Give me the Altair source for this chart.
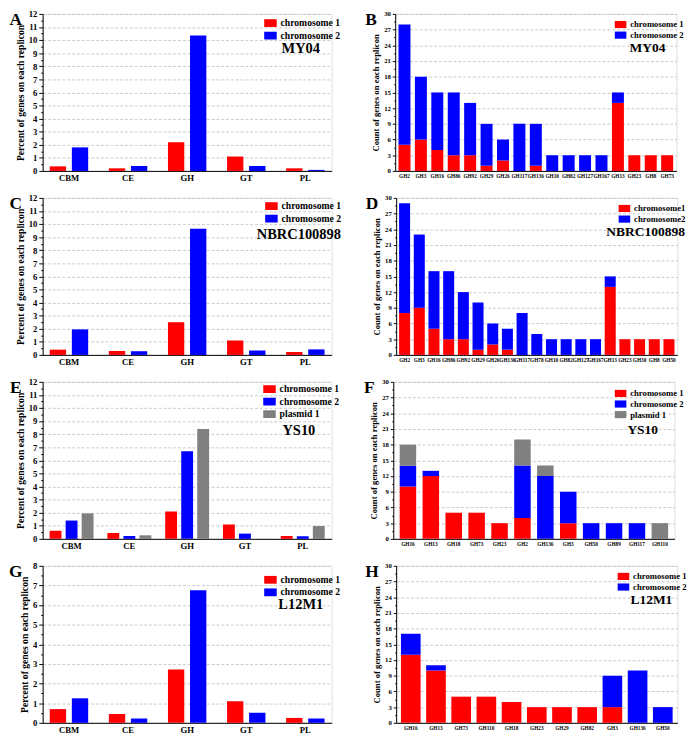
import altair as alt
import pandas as pd

FONT = "Liberation Serif"
RED, BLUE, GREY = "#ff0000", "#0000ff", "#808080"

# ---------------- data ----------------
func_cats = ["CBM", "CE", "GH", "GT", "PL"]

A_chr1 = [0.35, 0.2, 2.2, 1.1, 0.2]
A_chr2 = [1.8, 0.38, 10.35, 0.38, 0.08]

C_chr1 = [0.4, 0.3, 2.5, 1.1, 0.22]
C_chr2 = [1.95, 0.28, 9.65, 0.33, 0.42]

E_chr1 = [0.62, 0.45, 2.1, 1.1, 0.22]
E_chr2 = [1.4, 0.22, 6.7, 0.4, 0.2]
E_pl1 = [1.95, 0.27, 8.4, 0.0, 0.98]

G_chr1 = [0.7, 0.45, 2.72, 1.1, 0.25]
G_chr2 = [1.25, 0.22, 6.75, 0.52, 0.22]

B_cats = ["GH2", "GH3", "GH16", "GH86", "GH92", "GH29", "GH26", "GH117", "GH136",
          "GH10", "GH82", "GH127", "GH167", "GH13", "GH23", "GH8", "GH73"]
B_chr1 = [5, 6, 4, 3, 3, 1, 2, 0, 1, 0, 0, 0, 0, 13, 3, 3, 3]
B_chr2 = [23, 12, 11, 12, 10, 8, 4, 9, 8, 3, 3, 3, 3, 2, 0, 0, 0]

D_cats = ["GH2", "GH3", "GH16", "GH86", "GH92", "GH29", "GH26", "GH136", "GH117", "GH78",
          "GH10", "GH82", "GH127", "GH167", "GH13", "GH23", "GH30", "GH8", "GH50"]
D_chr1 = [8, 9, 5, 3, 3, 1, 2, 1, 0, 0, 0, 0, 0, 0, 13, 3, 3, 3, 3]
D_chr2 = [21, 14, 11, 13, 9, 9, 4, 4, 8, 4, 3, 3, 3, 3, 2, 0, 0, 0, 0]

F_cats = ["GH16", "GH13", "GH18", "GH73", "GH23", "GH2", "GH136", "GH3",
          "GH50", "GH89", "GH117", "GH110"]
F_chr1 = [10, 12, 5, 5, 3, 4, 0, 3, 0, 0, 0, 0]
F_chr2 = [4, 1, 0, 0, 0, 10, 12, 6, 3, 3, 3, 0]
F_pl1 = [4, 0, 0, 0, 0, 5, 2, 0, 0, 0, 0, 3]

H_cats = ["GH16", "GH13", "GH73", "GH110", "GH18", "GH23", "GH29", "GH82", "GH3", "GH136", "GH50"]
H_chr1 = [13, 10, 5, 5, 4, 3, 3, 3, 3, 0, 0]
H_chr2 = [4, 1, 0, 0, 0, 0, 0, 0, 6, 10, 3]

S2 = ["chromosome 1", "chromosome 2"]
S3 = ["chromosome 1", "chromosome 2", "plasmid 1"]
S2D = ["chromosome1", "chromosome2"]

RECT = "M-1,-0.62H1V0.62H-1Z"

LW, RW, PH = 300, 292, 163


def make_df(cats, names, values):
    rows = []
    for k, (name, vals) in enumerate(zip(names, values)):
        for c, v in zip(cats, vals):
            rows.append({"cat": c, "series": name, "value": v, "ord": k})
    return pd.DataFrame(rows)


def overlay(strain, letter, sx, sy, lx, sfs):
    lab = alt.Chart(pd.DataFrame({"t": [strain]})).mark_text(
        font=FONT, fontWeight="bold", fontSize=sfs, color="black",
        align="center", baseline="middle"
    ).encode(text="t:N", x=alt.value(sx), y=alt.value(sy))
    let = alt.Chart(pd.DataFrame({"t": [letter]})).mark_text(
        font=FONT, fontWeight="bold", fontSize=18, color="black",
        align="center", baseline="middle"
    ).encode(text="t:N", x=alt.value(lx), y=alt.value(7))
    return lab, let


def left_panel(names, values, colors, strain, letter, ymax, sx, sy, lgx, lgy):
    df = make_df(func_cats, names, values)
    n = len(names)
    ticks = [i * 0.5 for i in range(int(ymax * 2) + 1)]
    yaxis = alt.Axis(
        title="Percent of genes on each replicon", values=ticks,
        labelExpr="datum.value % 1 == 0 ? format(datum.value, 'd') : ''",
        tickSize={"condition": {"test": "datum.value % 1 != 0", "value": 2}, "value": 4},
        gridOpacity={"condition": {"test": "datum.value % 1 != 0", "value": 0}, "value": 1},
        gridDash=[3, 2], gridColor="#c8c8c8", labelOverlap=False, labelFlush=False,
        labelFont=FONT, labelFontWeight="bold", labelFontSize=9, labelColor="black",
        titleFont=FONT, titleFontWeight="bold", titleFontSize=10, titleColor="black",
        titlePadding=3, labelPadding=2, domainColor="black", tickColor="black",
    )
    xaxis = alt.Axis(
        title=None, labelAngle=0, ticks=False, grid=False, domainColor="black",
        labelFont=FONT, labelFontWeight="bold", labelFontSize=9, labelColor="black",
        labelPadding=3, labelOverlap=False,
    )
    legend = alt.Legend(
        title=None, orient="none", legendX=lgx, legendY=lgy, padding=0, symbolType=RECT,
        symbolSize=169, symbolStrokeWidth=0, labelFont=FONT, labelFontWeight="bold",
        labelFontSize=10, labelColor="black", labelOffset=4, rowPadding=1,
    )
    bars = alt.Chart(df).mark_bar().encode(
        x=alt.X("cat:N", sort=func_cats, axis=xaxis,
                scale=alt.Scale(paddingInner=0.35 if n == 2 else 0.24, paddingOuter=0.12)),
        xOffset=alt.XOffset("series:N", sort=names,
                            scale=alt.Scale(paddingInner=0.26, paddingOuter=0)),
        y=alt.Y("value:Q", scale=alt.Scale(domain=[0, ymax], nice=False), axis=yaxis),
        color=alt.Color("series:N", scale=alt.Scale(domain=names, range=colors), legend=legend),
    )
    lab, let = overlay(strain, letter, sx, sy, -28, 15)
    return alt.layer(bars, lab, let).properties(width=LW, height=PH)


def right_panel(cats, names, values, colors, strain, letter, sx, sy, lgx, lgy, pi=0.27, po=0.2):
    df = make_df(cats, names, values)
    ticks = [i * 1.5 for i in range(21)]
    yaxis = alt.Axis(
        title="Count of genes on each replicon", values=ticks,
        labelExpr="datum.value % 3 == 0 ? format(datum.value, 'd') : ''",
        tickSize={"condition": {"test": "datum.value % 3 != 0", "value": 1.5}, "value": 3},
        gridOpacity={"condition": {"test": "datum.value % 3 != 0", "value": 0}, "value": 1},
        gridDash=[3, 2], gridColor="#c8c8c8", labelOverlap=False, labelFlush=False,
        labelFont=FONT, labelFontWeight="bold", labelFontSize=7, labelColor="black",
        titleFont=FONT, titleFontWeight="bold", titleFontSize=9, titleColor="black",
        titlePadding=3, labelPadding=2, domainColor="black", tickColor="black",
    )
    xaxis = alt.Axis(
        title=None, labelAngle=0, ticks=False, grid=False, domainColor="black",
        labelFont=FONT, labelFontWeight="bold", labelFontSize=5.5, labelColor="black",
        labelPadding=3, labelOverlap=False,
    )
    legend = alt.Legend(
        title=None, orient="none", legendX=lgx, legendY=lgy, padding=0, symbolType=RECT,
        symbolSize=144, symbolStrokeWidth=0, labelFont=FONT, labelFontWeight="bold",
        labelFontSize=9, labelColor="black", labelOffset=4, rowPadding=0,
    )
    bars = alt.Chart(df).mark_bar().encode(
        x=alt.X("cat:N", sort=cats, axis=xaxis,
                scale=alt.Scale(paddingInner=pi, paddingOuter=po)),
        y=alt.Y("value:Q", stack="zero", scale=alt.Scale(domain=[0, 30], nice=False), axis=yaxis),
        color=alt.Color("series:N", scale=alt.Scale(domain=names, range=colors), legend=legend),
        order=alt.Order("ord:Q", sort="ascending"),
    )
    lab, let = overlay(strain, letter, sx, sy, -25, 14)
    return alt.layer(bars, lab, let).properties(width=RW, height=PH)


pA = left_panel(S2, [A_chr1, A_chr2], [RED, BLUE], "MY04", "A", 12, 268, 36, 230, 3)
pB = right_panel(B_cats, S2, [B_chr1, B_chr2], [RED, BLUE], "MY04", "B", 262, 36, 228, 5)
pC = left_panel(S2, [C_chr1, C_chr2], [RED, BLUE], "NBRC100898", "C", 12, 266, 38, 231, 2)
pD = right_panel(D_cats, S2D, [D_chr1, D_chr2], [RED, BLUE], "NBRC100898", "D", 259, 36, 231, 5, pi=0.25)
pE = left_panel(S3, [E_chr1, E_chr2, E_pl1], [RED, BLUE, GREY], "YS10", "E", 12, 266, 50, 229, 1)
pF = right_panel(F_cats, S3, [F_chr1, F_chr2, F_pl1], [RED, BLUE, GREY], "YS10", "F", 259, 50, 230, 6, pi=0.28, po=0.28)
pG = left_panel(S2, [G_chr1, G_chr2], [RED, BLUE], "L12M1", "G", 8, 268, 40, 230, 8)
pH = right_panel(H_cats, S2, [H_chr1, H_chr2], [RED, BLUE], "L12M1", "H", 265, 36, 230, 5, pi=0.22, po=0.19)

rows = []
for l, r in [(pA, pB), (pC, pD), (pE, pF), (pG, pH)]:
    rows.append(alt.hconcat(l, r, spacing=24).resolve_scale(color="independent", xOffset="independent"))

chart = alt.vconcat(*rows, spacing=10).resolve_scale(
    color="independent", xOffset="independent"
).properties(
    padding={"top": -13, "left": 0, "right": 0, "bottom": 0}
).configure_view(stroke="black", strokeWidth=1).configure(background="white")

chart.save("out.html", embed_options={"renderer": "svg", "actions": False})
